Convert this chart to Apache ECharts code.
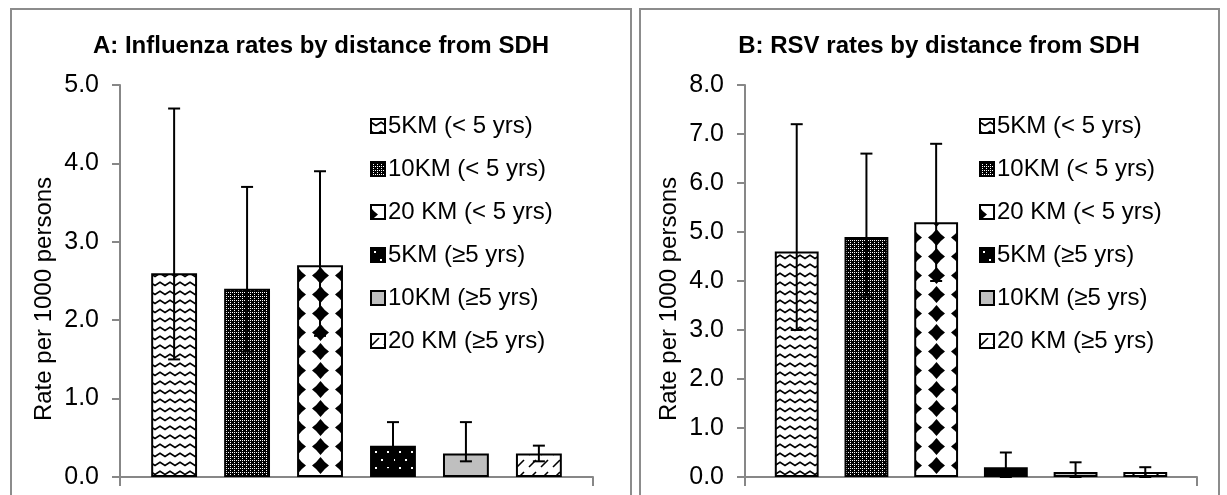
<!DOCTYPE html>
<html><head><meta charset="utf-8">
<script src="https://cdn.jsdelivr.net/npm/echarts@6/dist/echarts.min.js"></script>
<style>html,body{margin:0;padding:0;background:#fff}#c{width:1227px;height:495px}</style>
</head><body><div id="c"></div>
<script>
// ---------------- data ----------------
const categories = [''];
const seriesNames = ['5KM (< 5 yrs)', '10KM (< 5 yrs)', '20 KM (< 5 yrs)', '5KM (\u22655 yrs)', '10KM (\u22655 yrs)', '20 KM (\u22655 yrs)'];
const fluRates = [2.6, 2.4, 2.7, 0.4, 0.3, 0.3];
const fluLow   = [1.5, 1.6, 1.8, 0.1, 0.2, 0.2];
const fluHigh  = [4.7, 3.7, 3.9, 0.7, 0.7, 0.4];
const rsvRates = [4.6, 4.9, 5.2, 0.2, 0.1, 0.1];
const rsvLow   = [3.0, 3.7, 4.0, 0.0, 0.0, 0.0];
const rsvHigh  = [7.2, 6.6, 6.8, 0.5, 0.3, 0.2];
const fluAxisMax = 5, rsvAxisMax = 8, axisStep = 1;
const titleA = 'A: Influenza rates by distance from SDH';
const titleB = 'B: RSV rates by distance from SDH';
const yName = 'Rate per 1000 persons';

// ---------------- style ----------------
const FONT = 'Liberation Sans, Arial, sans-serif';
const AXIS_GRAY = '#878787';
const BAR_W_RATIO = 0.097, BAR_GAP_RATIO = 0.59, CAP_W = 12;

function tile(w, h, draw) {
  const c = document.createElement('canvas');
  c.width = w; c.height = h;
  const g = c.getContext('2d');
  draw(g, w, h);
  return c;
}
function pat(canvas, ox, oy) { return { image: canvas, repeat: 'repeat', x: ox || 0, y: oy || 0 }; }

const zigzag = tile(10, 9, (g, w, h) => {
  g.fillStyle = '#fff'; g.fillRect(0, 0, w, h);
  g.strokeStyle = '#000'; g.lineWidth = 1.6;
  g.beginPath(); g.moveTo(-1, 2.5); g.lineTo(5, 6.5); g.lineTo(11, 2.5); g.stroke();
});
const fineCheck = tile(4, 4, (g, w, h) => {
  g.fillStyle = '#000'; g.fillRect(0, 0, w, h);
  g.fillStyle = '#fff'; g.fillRect(0, 0, 1, 1); g.fillRect(2, 2, 1, 1); g.fillRect(2, 0, 1, 1);
});
const diamonds = tile(23, 19, (g, w, h) => {
  g.fillStyle = '#fff'; g.fillRect(0, 0, w, h);
  g.fillStyle = '#000';
  const cx = w / 2, cy = h / 2, rx = 8.5, ry = 8.5, k = 0.42;
  g.beginPath();
  g.moveTo(cx, cy - ry);
  g.quadraticCurveTo(cx + rx * k, cy - ry * k, cx + rx, cy);
  g.quadraticCurveTo(cx + rx * k, cy + ry * k, cx, cy + ry);
  g.quadraticCurveTo(cx - rx * k, cy + ry * k, cx - rx, cy);
  g.quadraticCurveTo(cx - rx * k, cy - ry * k, cx, cy - ry);
  g.fill();
});
const dots = tile(12, 16, (g, w, h) => {
  g.fillStyle = '#000'; g.fillRect(0, 0, w, h);
  g.fillStyle = '#fff'; g.fillRect(3, 3, 2, 2); g.fillRect(9, 11, 2, 2);
});
const diag = tile(12, 12, (g, w, h) => {
  g.fillStyle = '#fff'; g.fillRect(0, 0, w, h);
  g.strokeStyle = '#000'; g.lineWidth = 1.6;
  g.beginPath(); g.moveTo(1, 11); g.lineTo(8, 4); g.stroke();
});

const fillsA = [pat(zigzag), pat(fineCheck), pat(diamonds, 309, 0), pat(dots), '#bfbfbf', pat(diag)];
const fillsB = [pat(zigzag), pat(fineCheck), pat(diamonds, 925, 0), pat(dots), '#bfbfbf', pat(diag)];

function barSeries(values, fills, axisIdx) {
  return seriesNames.map((name, i) => ({
    type: 'bar', name: name, xAxisIndex: axisIdx, yAxisIndex: axisIdx,
    data: [values[i]],
    barWidth: (BAR_W_RATIO * 100) + '%', barGap: (BAR_GAP_RATIO * 100) + '%',
    itemStyle: { color: fills[i], borderColor: '#000', borderWidth: 2 },
    emphasis: { disabled: true }
  }));
}
function errorSeries(low, high, axisIdx) {
  const n = low.length;
  return {
    type: 'custom', name: 'error', xAxisIndex: axisIdx, yAxisIndex: axisIdx, z: 5,
    data: low.map((l, i) => [0, l, high[i], i]),
    encode: { x: 0, y: [1, 2] },
    renderItem: (params, api) => {
      const idx = api.value(3);
      const base = api.coord([api.value(0), 0]);
      const band = api.size([1, 0])[0];
      const w = band * BAR_W_RATIO;
      const step = w * (1 + BAR_GAP_RATIO);
      const x = base[0] + (idx - (n - 1) / 2) * step;
      const yl = api.coord([api.value(0), api.value(1)])[1];
      const yh = api.coord([api.value(0), api.value(2)])[1];
      const st = { stroke: '#000', lineWidth: 2 };
      const c = CAP_W / 2;
      return { type: 'group', children: [
        { type: 'line', shape: { x1: x, y1: yl, x2: x, y2: yh }, style: st },
        { type: 'line', shape: { x1: x - c, y1: yh, x2: x + c, y2: yh }, style: st },
        { type: 'line', shape: { x1: x - c, y1: yl, x2: x + c, y2: yl }, style: st }
      ] };
    }
  };
}

function xAx(gi) {
  return {
    type: 'category', gridIndex: gi, data: categories, boundaryGap: true,
    axisLine: { lineStyle: { color: AXIS_GRAY, width: 2 } },
    axisTick: { show: true, length: 9, lineStyle: { color: AXIS_GRAY, width: 2 } },
    axisLabel: { show: false }, splitLine: { show: false }
  };
}
function yAx(gi, max) {
  return {
    type: 'value', gridIndex: gi, min: 0, max: max, interval: axisStep,
    name: yName, nameLocation: 'middle', nameRotate: 90, nameGap: 64,
    nameTextStyle: { fontSize: 24, color: '#000', fontFamily: FONT, padding: [0, 36, 0, 0] },
    axisLine: { show: true, lineStyle: { color: AXIS_GRAY, width: 2 } },
    axisTick: { show: true, length: 8, lineStyle: { color: AXIS_GRAY, width: 2 } },
    axisLabel: { fontSize: 25, color: '#000', margin: 21, fontFamily: FONT, formatter: v => v.toFixed(1) },
    splitLine: { show: false }
  };
}
function legend(left) {
  return {
    data: seriesNames, orient: 'vertical', left: left, top: 109,
    icon: 'rect', itemWidth: 14, itemHeight: 14, itemGap: 19,
    selectedMode: false,
    textStyle: { fontSize: 24, color: '#000', fontFamily: FONT, lineHeight: 24, padding: [0, 0, 0, -2] }
  };
}

const option = {
  animation: false,
  backgroundColor: '#fff',
  textStyle: { fontFamily: FONT },
  title: [
    { text: titleA, left: 316, top: 29, textAlign: 'center', textStyle: { fontSize: 24, fontWeight: 'bold', color: '#000', fontFamily: FONT } },
    { text: titleB, left: 934, top: 29, textAlign: 'center', textStyle: { fontSize: 24, fontWeight: 'bold', color: '#000', fontFamily: FONT } }
  ],
  legend: [legend(365), legend(974)],
  grid: [
    { left: 120, top: 85, width: 473, height: 392 },
    { left: 745, top: 85, width: 452, height: 392 }
  ],
  xAxis: [xAx(0), xAx(1)],
  yAxis: [yAx(0, fluAxisMax), yAx(1, rsvAxisMax)],
  graphic: [
    { type: 'rect', shape: { x: 11, y: 9, width: 620, height: 520 }, style: { fill: 'none', stroke: '#8c8c8c', lineWidth: 2 }, silent: true },
    { type: 'rect', shape: { x: 640, y: 9, width: 579, height: 520 }, style: { fill: 'none', stroke: '#8c8c8c', lineWidth: 2 }, silent: true }
  ],
  series: [].concat(
    barSeries(fluRates, fillsA, 0), [errorSeries(fluLow, fluHigh, 0)],
    barSeries(rsvRates, fillsB, 1), [errorSeries(rsvLow, rsvHigh, 1)]
  )
};
const chart = echarts.init(document.getElementById('c'));
chart.setOption(option);
</script></body></html>
